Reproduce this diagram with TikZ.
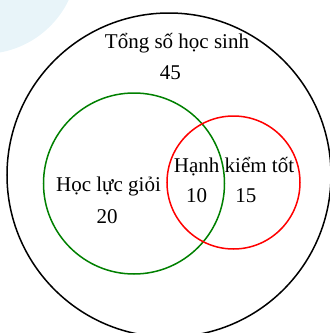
\documentclass[tikz,border=0pt]{standalone}
\usepackage{fontspec}
\setmainfont{Liberation Serif}
\definecolor{bgblue}{RGB}{232,244,249}
\definecolor{setgreen}{RGB}{0,128,0}
\definecolor{setred}{RGB}{255,0,0}
\begin{document}
\begin{tikzpicture}[x=1pt,y=-1pt,
  setcircle/.style={circle,inner sep=0pt,line width=1.5pt},
  lbl/.style={anchor=base,inner sep=0pt,font=\fontsize{21}{25}\selectfont}]
\useasboundingbox (0,0) rectangle (330,333);
\clip (0,0) rectangle (330,333);
\fill[bgblue] (-17,-41) circle[radius=95];
\node[setcircle,draw=black,minimum size=324pt] (all) at (169,175) {};
\node[setcircle,draw=setgreen,minimum size=181pt] (hl) at (134,183.5) {};
\node[setcircle,draw=setred,minimum size=133pt] (hk) at (233.5,182.5) {};
\node[lbl] (t1) at (177,48) {Tổng số học sinh};
\node[lbl] (n45) at (170.5,79) {45};
\node[lbl] (t2) at (108.5,191) {Học lực giỏi};
\node[lbl] (n20) at (107,223) {20};
\node[lbl] (t3) at (234,172) {Hạnh kiểm tốt};
\node[lbl] (n10) at (196.5,202) {10};
\node[lbl] (n15) at (246,202) {15};
\end{tikzpicture}
\end{document}
